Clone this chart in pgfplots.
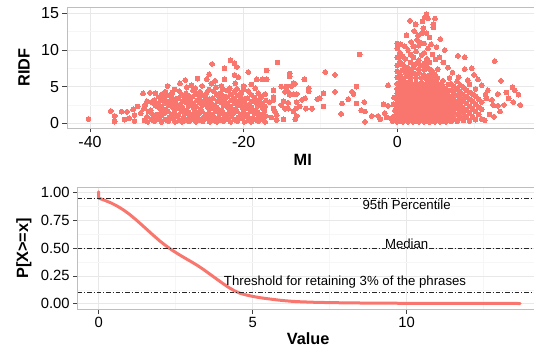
\documentclass[border=0pt]{standalone}
\usepackage{pgfplots}
\pgfplotsset{compat=1.18}
\usepackage{fontspec}
\setmainfont{Liberation Sans}
\definecolor{gg}{RGB}{248,118,109}
\definecolor{gridmaj}{RGB}{232,232,232}
\definecolor{gridmin}{RGB}{246,246,246}
\definecolor{border}{RGB}{190,190,190}
\pgfplotsset{
  ggstyle/.style={
    scale only axis,
    axis line style={draw=border, line width=0.8bp},
    grid=both,
    major grid style={draw=gridmaj, line width=0.6bp},
    minor grid style={draw=gridmin, line width=0.5bp},
    tick align=outside,
    major tick length=4.5bp,
    minor tick length=0pt,
    tick style={draw=black!75, line width=0.6bp},
    xtick pos=bottom, ytick pos=left,
    /pgf/number format/assume math mode=true,
    every axis y label/.style={rotate=90, anchor=center, font=\fontsize{16.3bp}{18bp}\selectfont\bfseries},
    every axis x label/.style={anchor=center, font=\fontsize{16.3bp}{18bp}\selectfont\bfseries},
  }
}
\begin{document}
\begin{tikzpicture}
\useasboundingbox (0,0) rectangle (534bp,350bp);
% ---------------- top panel ----------------
\begin{axis}[ggstyle,
  at={(67bp,222bp)}, anchor=south west,
  width=475.4bp, height=121bp,
  xmin=-43, xmax=18.9, ymin=-0.64, ymax=15.87,
  xtick={-40,-20,0}, minor xtick={-30,-10,10},
  ytick={0,5,10,15}, minor ytick={2.5,7.5,12.5},
  ticklabel style={font=\fontsize{16bp}{18bp}\selectfont},
  xlabel={MI}, ylabel={RIDF},
  x label style={at={(axis description cs:0.496,-0.264)}},
  y label style={at={(axis description cs:-0.0905,0.5)}},
]
\addplot[only marks, mark=*, mark size=2.4bp, mark options={fill=gg, draw=gg, line width=0pt}] coordinates {
(-40.2,0.6)(-37.3,1.68)(-36.8,1.0)(-36.8,0.22)(-35.9,1.58)(-35.2,1.58)(-34.4,1.9)(-34.2,1.13)(-34.9,0.68)(-34.2,0.31)
(-33.1,4.1)(-32.2,4.17)(-31.5,4.1)(-33.4,1.36)(-32.6,0.9)(-35.5,0.5)(-33.8,2.3)
(-32.9,0.4)(-33.0,2.0)(-32.8,2.5)
(-32.5,0.2)(-32.4,1.6)(-32.6,3.0)
(-32.0,0.5)(-31.9,1.3)(-32.1,1.8)(-32.0,2.9)
(-31.6,0.3)(-31.7,0.9)(-31.5,2.4)(-31.6,3.2)
(-31.1,0.6)(-31.2,1.2)(-31.0,2.1)(-31.1,2.7)(-31.0,3.6)
(-30.7,0.2)(-30.8,1.0)(-30.6,1.7)(-30.7,2.3)(-30.8,3.1)(-30.6,4.0)
(-30.2,0.5)(-30.3,1.4)(-30.1,1.9)(-30.2,2.8)(-30.3,3.4)(-30.2,4.3)
(-29.8,0.3)(-29.7,0.8)(-29.9,1.6)(-29.8,2.5)(-29.7,3.0)(-29.8,3.8)(-29.9,5.1)
(-29.3,0.7)(-29.4,1.2)(-29.2,2.2)(-29.3,2.9)(-29.4,3.5)(-29.3,4.2)
(-28.9,0.2)(-28.8,1.0)(-29.0,1.5)(-28.9,2.0)(-28.8,2.7)(-28.9,3.3)(-29.0,4.6)
(-28.4,0.4)(-28.5,1.1)(-28.3,2.0)(-28.4,2.5)(-28.5,3.4)(-28.4,4.4)
(-28.0,0.2)(-27.9,0.7)(-28.1,1.6)(-28.0,2.2)(-27.9,3.0)(-28.0,3.9)
(-27.5,0.5)(-27.6,1.3)(-27.4,1.8)(-27.5,2.9)(-27.6,3.5)(-27.5,4.1)(-27.4,4.9)
(-27.1,0.3)(-27.0,0.9)(-27.2,1.5)(-27.1,2.4)(-27.0,3.2)(-27.1,3.7)
(-26.6,0.6)(-26.7,1.2)(-26.5,2.1)(-26.6,2.7)(-26.7,3.6)(-26.6,4.5)
(-26.2,0.2)(-26.1,1.0)(-26.3,1.7)(-26.2,2.3)(-26.1,3.1)(-26.2,4.0)(-26.3,4.8)
(-25.7,0.5)(-25.8,1.4)(-25.6,1.9)(-25.7,2.8)(-25.8,3.4)(-25.7,4.3)
(-25.3,0.3)(-25.2,0.8)(-25.4,1.6)(-25.3,2.5)(-25.2,3.0)(-25.3,3.8)(-25.4,5.1)
(-24.8,0.7)(-24.9,1.2)(-24.7,2.2)(-24.8,2.9)(-24.9,3.5)(-24.8,4.2)
(-24.4,0.2)(-24.3,1.0)(-24.5,1.5)(-24.4,2.0)(-24.3,2.7)(-24.4,3.3)(-24.5,4.6)
(-23.9,0.4)(-24.0,1.1)(-23.8,2.0)(-23.9,2.5)(-24.0,3.4)(-23.9,4.4)
(-23.5,0.2)(-23.4,0.7)(-23.6,1.6)(-23.5,2.2)(-23.4,3.0)(-23.5,3.9)(-23.6,4.9)
(-23.0,0.5)(-23.1,1.3)(-22.9,1.8)(-23.0,2.9)(-23.1,3.5)(-23.0,4.1)
(-22.6,0.3)(-22.5,0.9)(-22.7,1.5)(-22.6,2.4)(-22.5,3.2)(-22.6,3.7)(-22.7,4.6)
(-22.1,0.6)(-22.2,1.2)(-22.0,2.1)(-22.1,2.7)(-22.2,3.6)(-22.1,4.5)
(-21.7,0.2)(-21.6,1.0)(-21.8,1.7)(-21.7,2.3)(-21.6,3.1)(-21.7,4.0)(-21.8,4.8)
(-21.2,0.5)(-21.3,1.4)(-21.1,1.9)(-21.2,2.8)(-21.3,3.4)(-21.2,4.3)
(-20.8,0.3)(-20.7,0.8)(-20.9,1.6)(-20.8,2.5)(-20.7,3.0)(-20.8,3.8)(-20.9,4.7)
(-20.3,0.7)(-20.4,1.2)(-20.2,2.2)(-20.3,2.9)(-20.4,3.5)(-20.3,4.2)
(-19.9,0.2)(-19.8,1.0)(-20.0,1.5)(-19.9,2.0)(-19.8,2.7)(-19.9,3.3)(-20.0,4.6)
(-19.4,0.4)(-19.5,1.1)(-19.3,2.0)(-19.4,2.5)(-19.5,3.4)(-19.4,4.4)
(-19.0,0.2)(-18.9,0.7)(-19.1,1.6)(-19.0,2.2)(-18.9,3.0)(-19.0,3.9)
(-18.5,0.5)(-18.6,1.3)(-18.4,1.8)(-18.5,2.9)(-18.6,3.5)(-18.5,4.8)
(-18.1,0.3)(-18.0,0.9)(-18.2,1.5)(-18.1,2.4)(-18.0,3.2)(-18.1,4.1)
(-17.6,0.6)(-17.7,1.2)(-17.5,2.1)(-17.6,2.7)(-17.7,3.6)
(-17.2,0.2)(-17.1,1.0)(-17.3,1.7)(-17.2,2.3)(-17.1,3.1)(-17.2,4.0)
(-21.7,8.6)(-21.2,8.2)(-24.1,8.1)(-22.5,7.5)(-20.9,7.7)(-19.4,7.0)(-24.5,6.7)(-21.2,6.6)(-20.7,6.3)(-17.0,7.2)
(-18.3,6.0)(-17.6,6.0)(-17.0,6.0)(-22.5,6.0)(-15.6,8.3)(-19.0,5.3)(-27.6,5.9)(-23.7,5.8)(-24.8,6.0)(-26.0,6.1)
(-26.8,5.2)(-28.3,5.45)(-21.1,5.45)(-20.0,5.1)(-24.2,5.4)(-22.9,5.1)
(-16.1,4.5)(-16.1,3.6)(-16.1,3.2)(-16.6,2.9)(-16.1,2.0)(-15.9,1.6)(-15.7,0.45)(-15.7,1.13)(-16.4,0.8)
(-15.1,5.0)(-14.4,5.0)(-13.8,5.1)(-13.3,5.4)(-14.6,4.3)(-14.2,4.3)(-14.0,3.9)(-13.5,4.0)(-13.1,4.0)
(-14.8,3.0)(-14.2,2.8)(-15.1,2.5)(-14.6,2.0)(-14.2,2.0)(-14.8,0.55)(-13.1,1.0)(-13.3,0.55)(-13.2,2.0)(-13.5,1.6)
(-13.1,2.9)(-12.7,2.3)(-12.4,3.2)(-12.0,3.4)(-11.9,2.0)(-11.1,2.0)(-9.6,2.3)(-14.0,6.8)(-14.0,6.4)(-13.5,5.5)
(-12.1,6.0)(-11.5,4.8)(-11.5,4.4)(-9.6,4.1)(-10.1,3.4)(-10.4,3.3)(-8.1,4.3)(-9.4,7.0)(-8.1,6.6)(-4.9,9.4)
(-7.2,2.7)(-7.3,1.3)(-6.4,3.3)(-5.9,4.3)(-5.7,4.0)(-5.3,5.0)(-5.3,2.7)(-4.7,1.8)(-4.2,1.6)(-4.3,2.9)
(-4.2,0.2)(-3.3,1.0)(-2.5,1.0)(-2.2,0.55)(-1.6,1.4)(-1.4,0.8)(-1.2,5.2)(-1.8,2.6)(-1.2,2.4)
(-0.6,0.3)(-0.4,1.0)(-0.8,0.7)(-0.3,1.8)(-0.5,2.6)(-0.4,3.5)
(0.0,0.2)(0.0,0.8)(0.0,1.5)(0.0,2.1)(0.0,2.8)(0.0,3.4)(0.0,4.1)(0.0,4.7)(0.0,5.4)(0.0,6.3)(0.0,7.1)(0.0,7.9)(0.0,9.0)(0.0,10.2)
(0.35,0.5)(0.35,1.1)(0.35,1.8)(0.35,2.4)(0.35,3.1)(0.35,3.7)(0.35,4.4)(0.35,5.0)(0.35,5.7)(0.35,6.7)(0.35,8.4)(0.35,9.6)
(0.7,0.2)(0.7,0.8)(0.7,1.4)(0.7,2.1)(0.7,2.7)(0.7,3.4)(0.7,4.0)(0.7,4.7)(0.7,5.3)(0.7,6.1)(0.7,7.3)(0.7,8.0)(0.7,9.1)
(1.05,0.5)(1.05,1.1)(1.05,1.7)(1.05,2.4)(1.05,3.0)(1.05,3.7)(1.05,4.3)(1.05,5.0)(1.05,5.6)(1.05,6.9)(1.05,7.7)(1.05,8.8)
(1.4,0.2)(1.4,0.8)(1.4,1.4)(1.4,2.0)(1.4,2.7)(1.4,3.3)(1.4,4.0)(1.4,4.6)(1.4,5.3)(1.4,6.4)(1.4,7.5)(1.4,10.0)
(1.75,0.5)(1.75,1.1)(1.75,1.7)(1.75,2.3)(1.75,3.0)(1.75,3.6)(1.75,4.3)(1.75,4.9)(1.75,5.6)(1.75,6.2)(1.75,7.0)(1.75,8.3)(1.75,9.4)
(2.1,0.2)(2.1,0.8)(2.1,1.4)(2.1,2.1)(2.1,2.7)(2.1,3.3)(2.1,4.0)(2.1,4.6)(2.1,5.3)(2.1,6.8)(2.1,7.6)(2.1,9.0)(2.1,10.5)
(2.45,0.5)(2.45,1.1)(2.45,1.7)(2.45,2.4)(2.45,3.0)(2.45,3.6)(2.45,4.3)(2.45,4.9)(2.45,5.6)(2.45,6.3)(2.45,8.1)(2.45,9.8)
(2.8,0.2)(2.8,0.8)(2.8,1.4)(2.8,2.0)(2.8,2.7)(2.8,3.3)(2.8,3.9)(2.8,4.6)(2.8,5.2)(2.8,6.9)(2.8,7.4)(2.8,8.6)(2.8,10.6)
(3.15,0.5)(3.15,1.1)(3.15,1.7)(3.15,2.3)(3.15,3.0)(3.15,3.6)(3.15,4.2)(3.15,4.9)(3.15,5.5)(3.15,6.2)(3.15,7.9)(3.15,9.3)
(3.5,0.2)(3.5,0.8)(3.5,1.4)(3.5,2.0)(3.5,2.6)(3.5,3.3)(3.5,3.9)(3.5,4.5)(3.5,5.2)(3.5,6.6)(3.5,7.3)(3.5,8.2)(3.5,9.6)(3.5,10.9)
(3.85,0.5)(3.85,1.1)(3.85,1.7)(3.85,2.3)(3.85,2.9)(3.85,3.6)(3.85,4.2)(3.85,4.8)(3.85,5.5)(3.85,6.1)(3.85,7.7)(3.85,8.8)
(4.2,0.2)(4.2,0.8)(4.2,1.4)(4.2,2.0)(4.2,2.6)(4.2,3.2)(4.2,3.9)(4.2,4.5)(4.2,5.1)(4.2,5.8)(4.2,6.6)(4.2,7.4)(4.2,8.3)
(4.55,0.5)(4.55,1.1)(4.55,1.7)(4.55,2.3)(4.55,2.9)(4.55,3.5)(4.55,4.1)(4.55,4.8)(4.55,5.4)(4.55,6.2)(4.55,7.1)
(4.9,0.2)(4.9,0.8)(4.9,1.4)(4.9,2.0)(4.9,2.6)(4.9,3.2)(4.9,3.8)(4.9,4.4)(4.9,5.1)(4.9,5.7)(4.9,6.7)
(5.25,0.5)(5.25,1.1)(5.25,1.7)(5.25,2.3)(5.25,2.9)(5.25,3.5)(5.25,4.1)(5.25,4.7)(5.25,5.4)(5.25,6.2)
(5.6,0.2)(5.6,0.8)(5.6,1.4)(5.6,2.0)(5.6,2.6)(5.6,3.2)(5.6,3.8)(5.6,4.5)(5.6,5.2)
(5.95,0.5)(5.95,1.1)(5.95,1.7)(5.95,2.3)(5.95,2.9)(5.95,3.5)(5.95,4.2)(5.95,5.0)(5.95,5.8)
(6.3,0.2)(6.3,0.8)(6.3,1.4)(6.3,2.0)(6.3,2.6)(6.3,3.3)(6.3,4.0)(6.3,4.7)
(6.65,0.5)(6.65,1.1)(6.65,1.7)(6.65,2.4)(6.65,3.0)(6.65,3.7)(6.65,4.4)(6.65,5.3)
(7.0,0.3)(7.0,1.1)(7.0,1.9)(7.0,2.8)(7.0,3.6)(7.0,4.5)(7.0,5.4)
(7.4,0.7)(7.4,1.5)(7.4,2.4)(7.4,3.2)(7.4,4.1)(7.4,5.0)
(7.8,0.3)(7.8,1.2)(7.8,2.0)(7.8,2.9)(7.8,3.8)(7.8,4.7)(7.8,5.7)
(8.2,0.8)(8.2,1.7)(8.2,2.5)(8.2,3.4)(8.2,4.3)(8.2,5.2)
(8.6,0.4)(8.6,1.3)(8.6,2.1)(8.6,3.0)(8.6,3.9)(8.6,4.9)
(9.0,0.9)(9.0,1.8)(9.0,2.7)(9.0,3.6)(9.0,4.5)
(9.4,0.3)(9.4,1.4)(9.4,2.3)(9.4,3.3)(9.4,4.2)(9.4,5.3)
(9.8,0.9)(9.8,2.0)(9.8,3.0)(9.8,4.0)
(10.2,0.5)(10.2,1.6)(10.2,2.6)(10.2,3.7)(10.2,4.7)
(10.6,1.2)(10.6,2.2)(10.6,3.3)
(11.0,0.6)(11.0,1.9)(11.0,2.9)(11.0,5.2)
(12.7,8.5)(13.5,5.8)(11.8,4.5)(13.1,4.0)(14.2,4.2)(15.0,4.9)(15.3,4.5)(15.8,3.9)(16.0,2.5)(15.1,2.9)
(13.9,2.5)(13.1,2.4)(12.5,2.5)(12.3,3.2)(11.6,3.4)(11.5,3.9)(10.5,6.0)(9.7,7.5)(8.8,7.4)(7.9,9.2)
(8.8,9.0)(12.0,1.2)(11.4,0.4)(12.6,0.9)(13.4,1.6)(14.5,3.4)(10.0,6.6)(9.2,5.9)(8.0,6.3)(7.2,6.9)
(6.6,7.6)(6.0,8.3)(5.5,9.0)(6.2,10.0)(5.3,7.4)(6.8,6.2)
(3.8,14.9)(3.6,14.5)(4.0,14.3)(4.9,14.3)(1.65,14.0)(2.4,13.5)(4.7,13.5)(3.4,13.0)(4.7,13.1)(1.2,12.0)
(2.7,12.0)(3.2,12.3)(3.8,12.3)(5.6,11.5)(4.2,11.7)(2.6,11.4)(4.4,10.8)(1.8,11.1)(0.4,10.8)(1.0,10.5)
(3.0,11.0)(4.0,10.2)(5.1,10.4)(2.2,12.6)(3.3,13.9)(4.6,9.4)(5.0,8.7)(0.0,10.9)
};
\end{axis}
% ---------------- bottom panel ----------------
\begin{axis}[ggstyle,
  at={(77.7bp,40.7bp)}, anchor=south west,
  width=464.5bp, height=121.6bp,
  xmin=-0.68, xmax=14.4, ymin=-0.05, ymax=1.0415,
  xtick={0,5,10}, minor xtick={2.5,7.5,12.5},
  ytick={0,0.25,0.5,0.75,1}, minor ytick={0.125,0.375,0.625,0.875},
  yticklabel style={/pgf/number format/.cd, fixed, fixed zerofill, precision=2},
  ticklabel style={font=\fontsize{14.8bp}{17bp}\selectfont},
  xlabel={Value}, ylabel={P[X>=x]},
  x label style={at={(axis description cs:0.496,-0.244)}},
  y label style={at={(axis description cs:-0.1156,0.5)}},
]
\addplot[draw=gg, line width=3bp, line join=round, line cap=round] coordinates {
(0,1.005)(0,0.95)(0.02,0.946)(0.2,0.928)(0.4,0.905)(0.6,0.877)(0.8,0.843)(1.0,0.803)(1.2,0.757)(1.4,0.708)(1.6,0.658)(1.8,0.608)(2.0,0.560)(2.2,0.517)(2.4,0.478)(2.6,0.443)(2.8,0.410)(3.0,0.378)(3.2,0.345)(3.4,0.308)(3.6,0.268)(3.8,0.228)(4.0,0.188)(4.2,0.150)(4.4,0.117)(4.6,0.093)(4.8,0.078)(5.0,0.066)(5.2,0.056)(5.4,0.048)(5.6,0.041)(5.8,0.034)(6.0,0.028)(6.3,0.021)(6.6,0.017)(7.0,0.013)(7.5,0.010)(8.0,0.008)(9.0,0.005)(10.0,0.004)(11.0,0.003)(12.5,0.003)(13.68,0.002)
};
\addplot[draw=black!85, line width=0.7bp, dash pattern=on 4.5bp off 2bp on 1bp off 2bp] coordinates {(-0.68,0.95)(14.4,0.95)};
\addplot[draw=black!85, line width=0.7bp, dash pattern=on 4.5bp off 2bp on 1bp off 2bp] coordinates {(-0.68,0.5)(14.4,0.5)};
\addplot[draw=black!85, line width=0.7bp, dash pattern=on 4.5bp off 2bp on 1bp off 2bp] coordinates {(-0.68,0.1)(14.4,0.1)};
\node[font=\fontsize{13.2bp}{15bp}\selectfont, inner sep=0pt] at (axis cs:10,0.89) {95th Percentile};
\node[font=\fontsize{13.2bp}{15bp}\selectfont, inner sep=0pt] at (axis cs:10,0.536) {Median};
\node[font=\fontsize{13.2bp}{15bp}\selectfont, inner sep=0pt] at (axis cs:8.0,0.19) {Threshold for retaining 3\% of the phrases};
\end{axis}
\end{tikzpicture}
\end{document}
